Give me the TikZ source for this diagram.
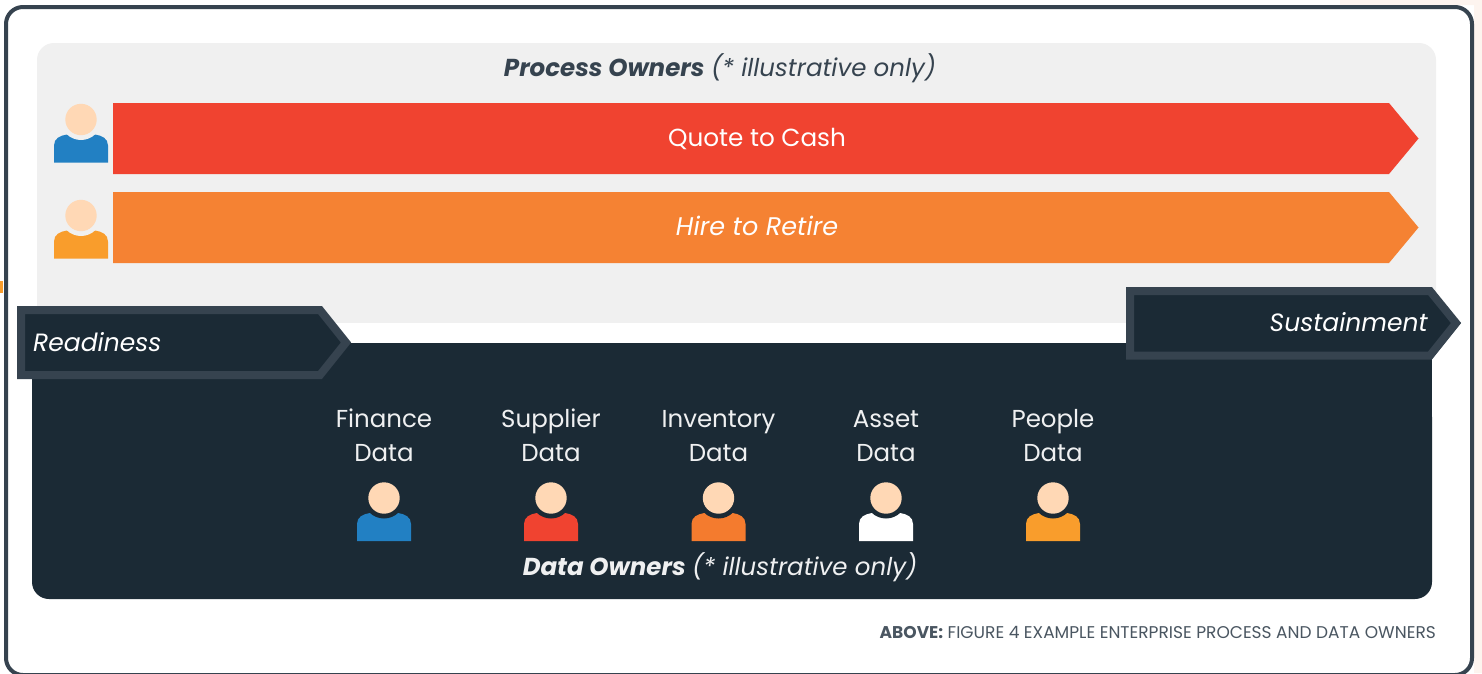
\documentclass[tikz,border=0pt]{standalone}
\usepackage{fontspec}
\setmainfont{Poppins}
\definecolor{OWred}{HTML}{F04330}
\definecolor{OWorange}{HTML}{F58233}
\definecolor{OWdeep}{HTML}{F47B2E}
\definecolor{OWamber}{HTML}{F99D2C}
\definecolor{OWblue}{HTML}{2280C3}
\definecolor{OWskin}{HTML}{FFD8B5}
\definecolor{OWdark}{HTML}{1B2A35}
\definecolor{OWedge}{HTML}{36434F}
\definecolor{OWgrey}{HTML}{F0F0F0}
\definecolor{OWtint}{HTML}{FDF4EF}
\newcommand{\owner}[4]{%
  \fill[#3] (#1-27,#2+43) -- (#1-27,#2+26) .. controls (#1-27,#2+19) and (#1-21,#2+16) .. (#1-14,#2+15)
  -- (#1+14,#2+15) .. controls (#1+21,#2+16) and (#1+27,#2+19) .. (#1+27,#2+26) -- (#1+27,#2+43) -- cycle;
  \fill[#4] (#1,#2) circle (20.5);
  \fill[OWskin] (#1,#2) circle (15.7);}
\newcommand{\databox}[3]{%
  \node[datalabel] (#1) at (#2,438) {\strut #3\\\strut Data};}
\tikzset{
  barlabel/.style={font=\fontsize{24.7}{30}\selectfont, text=white},
  datalabel/.style={font=\fontsize{24.5}{34}\selectfont, text=white!93!OWdark, align=center},
  phaselabel/.style={font=\fontsize{25}{30}\selectfont\itshape, text=white, inner xsep=0pt},
}
\begin{document}
\begin{tikzpicture}[x=1pt,y=-1pt]
\useasboundingbox (0,0) rectangle (1482,673);

% ====================================================================
%
%         Frame and panels
%
% ====================================================================

  % tint behind the frame
  \fill[OWtint] (1340,0) -- (1482,0) -- (1482,673) -- (1474,673) -- (1474,5) -- (1340,5) -- cycle;
  \fill[OWamber] (0,281) rectangle (3,293);

  % frame, runs off below
  \filldraw[fill=white, draw=OWedge, line width=4pt, rounded corners=17pt]
  (6,7) rectangle (1472,675);

  % grey panel
  \fill[OWgrey, rounded corners=17pt] (37,43) rectangle (1436,340);
  \fill[white] (37,323) rectangle (1436,345);

  % dark panel
  \fill[OWdark, rounded corners=17pt] (32,400) -- (32,599) -- (1432,599) -- (1432,400) -- cycle;
  \fill[OWdark] (32,343) rectangle (1432,420);

% ====================================================================
%
%         Process owners
%
% ====================================================================

  \node[font=\fontsize{24.5}{30}\selectfont, text=OWedge] (processtitle) at (720,68)
  {\textbf{\textit{Process Owners}} \textit{(* illustrative only)}};

  % red bar
  \fill[OWred] (113,103) -- (1389,103) -- (1418.5,138.5) -- (1389,174) -- (113,174) -- cycle;
  \node[barlabel] (quotecash) at (757,139) {Quote to Cash};

  % orange bar
  \fill[OWorange] (113,192) -- (1389,192) -- (1418.5,227.5) -- (1389,263) -- (113,263) -- cycle;
  \node[barlabel, font=\fontsize{25.5}{30}\selectfont\itshape] (hireretire) at (757,226) {Hire to Retire};

  \owner{81}{119.5}{OWblue}{OWgrey}
  \owner{81}{215.5}{OWamber}{OWgrey}

% ====================================================================
%
%         Phases
%
% ====================================================================

  % Readiness
  \filldraw[fill=OWdark, draw=OWedge, line width=8pt, miter limit=4]
  (21,310) -- (320,310) -- (346,342.5) -- (320,375) -- (21,375) -- cycle;
  \node[phaselabel, anchor=west] (readiness) at (33,342) {Readiness};

  % Sustainment
  \filldraw[fill=OWdark, draw=OWedge, line width=8pt, miter limit=4]
  (1130,291) -- (1430,291) -- (1456,323) -- (1430,355.5) -- (1130,355.5) -- cycle;
  \node[phaselabel, anchor=east] (sustainment) at (1428,322) {Sustainment};

% ====================================================================
%
%         Data owners
%
% ====================================================================

  \databox{finance}{384}{Finance}
  \databox{supplier}{551}{Supplier}
  \databox{inventory}{718.5}{Inventory}
  \databox{asset}{886}{Asset}
  \databox{people}{1053}{People}

  \owner{384}{498}{OWblue}{OWdark}
  \owner{551}{498}{OWred}{OWdark}
  \owner{718.5}{498}{OWdeep}{OWdark}
  \owner{886}{498}{white}{OWdark}
  \owner{1053}{498}{OWamber}{OWdark}

  \node[font=\fontsize{24.5}{30}\selectfont, text=white!93!OWdark] (datatitle) at (720,567)
  {\textbf{\textit{Data Owners}} \textit{(* illustrative only)}};

  \node[font=\fontsize{17}{20}\selectfont, text=OWedge!90!white, anchor=east, inner xsep=0pt] (caption) at (1436,632)
  {\textbf{ABOVE:} FIGURE 4 EXAMPLE ENTERPRISE PROCESS AND DATA OWNERS};

\end{tikzpicture}
\end{document}
